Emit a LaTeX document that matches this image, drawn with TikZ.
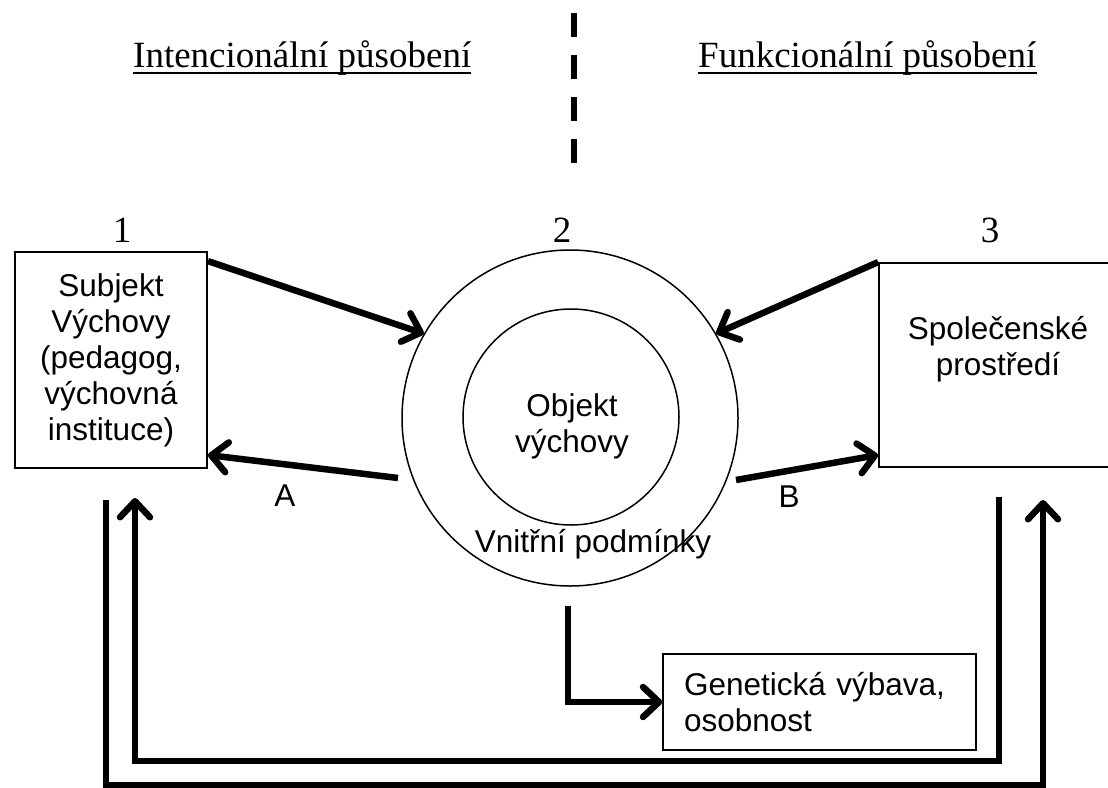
\documentclass[tikz,border=0pt]{standalone}
\usepackage{fontspec}
\setmainfont{Liberation Serif}
\newfontfamily\arialfont{Liberation Sans}
\usetikzlibrary{arrows.meta}

\tikzset{
	box/.style={draw, line width=1.8pt, inner sep=0pt},
	sans/.style={font=\arialfont\fontsize{31.5}{36}\selectfont, align=center, inner sep=0pt},
	serif/.style={font=\fontsize{37}{42}\selectfont, inner sep=0pt},
	ring/.style={circle, draw, line width=1.5pt, inner sep=0pt},
	arr/.style={line width=6.5pt, -{Straight Barb[length=16pt, width=30pt, round]}},
}

\begin{document}
\begin{tikzpicture}[x=1pt, y=-1pt]
	\useasboundingbox (0,0) rectangle (1108,787);
	\clip (0,0) rectangle (1108,787);

	% headings and divider
	\node[serif, anchor=base west] (intl) at (133,67) {Intencionální působení};
	\node[serif, anchor=base west] (func) at (698,67) {Funkcionální působení};
	\draw[line width=2pt] ([yshift=-6pt]intl.base west) -- ([yshift=-6pt]intl.base east);
	\draw[line width=2pt] ([yshift=-6pt]func.base west) -- ([yshift=-6pt]func.base east);
	\draw[line width=6pt, dash pattern=on 24pt off 18pt] (574,13) -- (574,163);

	% the three parts
	\node[serif, anchor=base] (n1) at (122,242) {1};
	\node[serif, anchor=base] (n2) at (562,242) {2};
	\node[serif, anchor=base] (n3) at (990,242) {3};

	\node[box, sans, minimum width=192pt, minimum height=216pt] (subj) at (111,360)
		{Subjekt\\Výchovy\\(pedagog,\\výchovná\\instituce)};

	\node[ring, minimum size=336pt] (outer) at (570,418) {};
	\node[ring, minimum size=216pt] (inner) at (571,417) {};
	\node[sans] (obj) at (572,426) {Objekt\\výchovy};
	\node[sans, anchor=base] (cond) at (593,552) {Vnitřní podmínky};

	\node[box, minimum width=238pt, minimum height=204pt] (soc) at (998,365) {};
	\node[sans] (soctext) at (998,349) {Společenské\\prostředí};

	\node[box, sans, line width=1.5pt, align=left, text width=271pt, minimum width=313pt, minimum height=96pt] (gen) at (819.5,702)
		{Genetická výbava,\\osobnost};

	% arrows
	\coordinate (aS) at (398,478);
	\coordinate (bS) at (736,480);
	\coordinate (gS) at (568,606);
	\coordinate (inS) at (999,497);
	\coordinate (inE) at (135,498);
	\coordinate (outS) at (106,500);
	\coordinate (outE) at (1043,500);

	\draw[arr] ([yshift=-10pt]subj.north east) -- (outer.150);
	\draw[arr] (aS) -- ([yshift=-95pt]subj.east);
	\draw[arr] (soc.north west) -- (outer.30);
	\draw[arr] (bS) -- ([yshift=-90pt]soc.west);
	\draw[arr] (gS) |- (gen.west);
	\draw[arr] (inS) -- ++(0,264) -| (inE);
	\draw[arr] (outS) -- ++(0,285) -| (outE);

	\node[sans, anchor=base] (la) at (285,506) {A};
	\node[sans, anchor=base] (lb) at (789,507) {B};
\end{tikzpicture}
\end{document}
